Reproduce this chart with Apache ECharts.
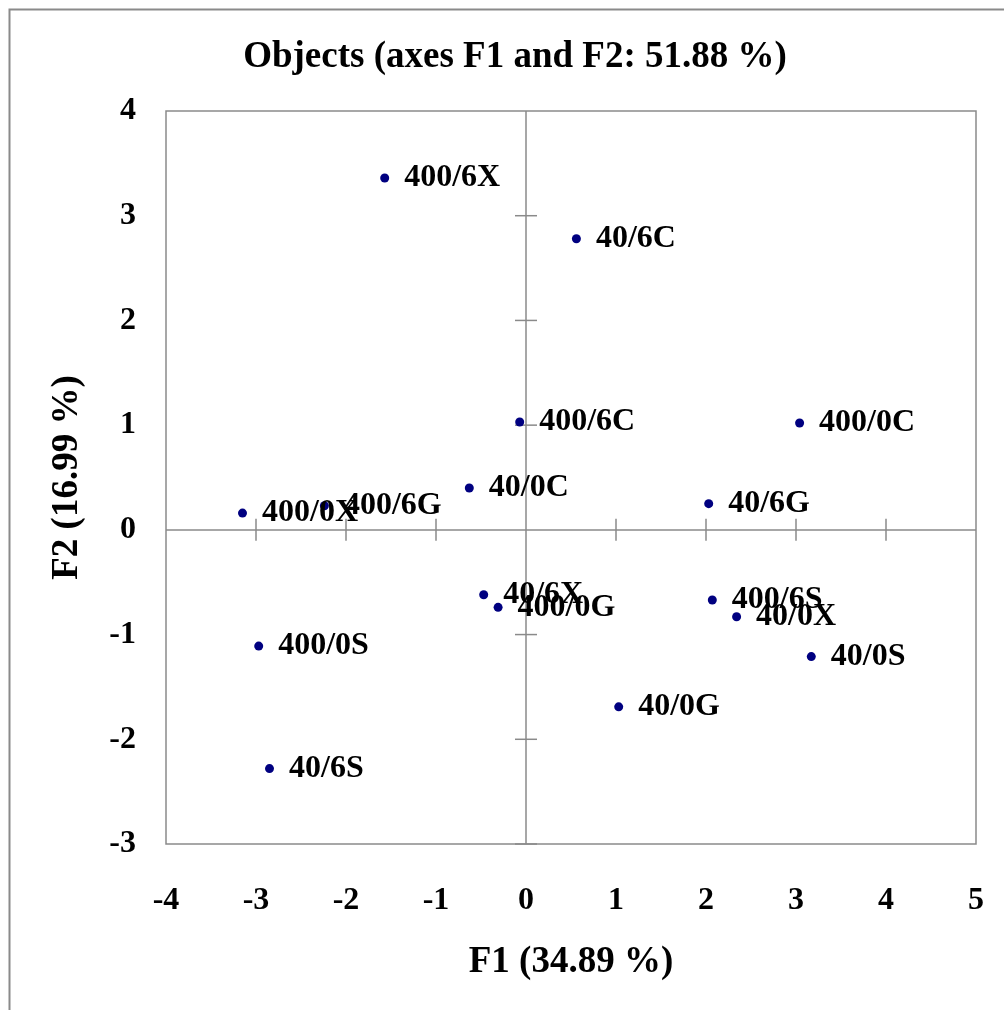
<!DOCTYPE html>
<html>
<head>
<meta charset="utf-8">
<script src="https://cdn.jsdelivr.net/npm/echarts@6/dist/echarts.min.js"></script>
<style>
html,body{margin:0;padding:0;background:#fff;}
#chart{width:1004px;height:1010px;}
</style>
</head>
<body>
<div id="chart"></div>
<script>
const names = ['400/6X','40/6C','400/6C','400/0C','40/0C','40/6G','400/0X','400/6G','40/6X','400/0G','400/6S','40/0X','40/0S','400/0S','40/0G','40/6S'];
const f1 = [-1.57, 0.56, -0.07, 3.04, -0.63, 2.03, -3.15, -2.24, -0.47, -0.31, 2.07, 2.34, 3.17, -2.97, 1.03, -2.85];
const f2 = [3.36, 2.78, 1.03, 1.02, 0.40, 0.25, 0.16, 0.23, -0.62, -0.74, -0.67, -0.83, -1.21, -1.11, -1.69, -2.28];
const xTicks = [-3, -2, -1, 1, 2, 3, 4];
const yTicks = [-3, -2, -1, 1, 2, 3];
const titleText = 'Objects (axes F1 and F2: 51.88 %)';
const xName = 'F1 (34.89 %)';
const yName = 'F2 (16.99 %)';

const FONT = 'Liberation Serif, Times New Roman, serif';
const GRAY = '#8a8a8a';

const pts = names.map((n, i) => ({ name: n, value: [f1[i], f2[i]] }));
const tickData = xTicks.map(v => [v, 0]).concat(yTicks.map(v => [v, 1]));

const chart = echarts.init(document.getElementById('chart'), null, { renderer: 'canvas' });
chart.setOption({
  animation: false,
  backgroundColor: '#fff',
  graphic: [{
    type: 'rect', left: 7, top: 7, z: -10,
    shape: { width: 1200, height: 1200 },
    style: { fill: 'none', stroke: GRAY, lineWidth: 2 }
  }],
  title: {
    text: titleText, left: 510, top: 34, textAlign: 'center',
    textStyle: { fontFamily: FONT, fontWeight: 'bold', fontSize: 37, color: '#000' }
  },
  grid: { left: 166, top: 111, width: 810, height: 733, show: true, borderColor: GRAY, borderWidth: 1.5, backgroundColor: 'transparent' },
  xAxis: {
    type: 'value', min: -4, max: 5, interval: 1,
    name: xName, nameLocation: 'middle', nameGap: 100,
    nameTextStyle: { fontFamily: FONT, fontWeight: 'bold', fontSize: 37, color: '#000' },
    axisLine: { show: false, onZero: false }, axisTick: { show: false }, splitLine: { show: false },
    axisLabel: { margin: 41, fontFamily: FONT, fontWeight: 'bold', fontSize: 32, color: '#000' }
  },
  yAxis: {
    type: 'value', min: -3, max: 4, interval: 1,
    name: yName, nameLocation: 'middle', nameGap: 80, nameRotate: 90,
    nameTextStyle: { fontFamily: FONT, fontWeight: 'bold', fontSize: 37, color: '#000' },
    axisLine: { show: false, onZero: false }, axisTick: { show: false }, splitLine: { show: false },
    axisLabel: { margin: 30, fontFamily: FONT, fontWeight: 'bold', fontSize: 32, color: '#000' }
  },
  series: [
    {
      type: 'custom', z: 1, silent: true,
      data: tickData,
      renderItem: function (params, api) {
        const v = api.value(0), flag = api.value(1);
        const L = 11;
        if (flag === 0) {
          const p = api.coord([v, 0]);
          return { type: 'line', shape: { x1: p[0], y1: p[1] - L, x2: p[0], y2: p[1] + L }, style: { stroke: GRAY, lineWidth: 1.5 } };
        } else {
          const p = api.coord([0, v]);
          return { type: 'line', shape: { x1: p[0] - L, y1: p[1], x2: p[0] + L, y2: p[1] }, style: { stroke: GRAY, lineWidth: 1.5 } };
        }
      },
      markLine: {
        silent: true, symbol: 'none', label: { show: false },
        lineStyle: { color: GRAY, width: 1.5, type: 'solid' },
        data: [{ xAxis: 0 }, { yAxis: 0 }]
      }
    },
    {
      type: 'scatter', z: 5,
      symbol: 'circle', symbolSize: 9,
      itemStyle: { color: '#000080', opacity: 1 },
      data: pts,
      label: {
        show: true, position: 'right', distance: 15, offset: [0, 3],
        formatter: p => p.name,
        fontFamily: FONT, fontWeight: 'bold', fontSize: 32, color: '#000'
      },
      labelLayout: { hideOverlap: false }
    }
  ]
});
</script>
</body>
</html>
